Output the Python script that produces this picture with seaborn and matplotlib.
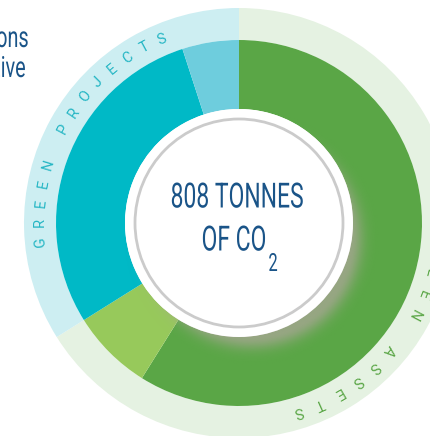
import numpy as np
import matplotlib
matplotlib.use("Agg")
import matplotlib.pyplot as plt
import seaborn as sns
from matplotlib.patches import Circle
from matplotlib.patheffects import AbstractPathEffect
from matplotlib.transforms import Affine2D

# ---------------- data ----------------
segments = ["Green assets A", "Green assets B", "Green projects A", "Green projects B"]
shares = [58.9, 7.2, 28.9, 5.0]            # % of 808 tonnes CO2
segment_colors = ["#5aa646", "#97c95b", "#00b9c6", "#6ecddd"]
groups = ["GREEN ASSETS", "GREEN PROJECTS"]
group_shares = [shares[0] + shares[1], shares[2] + shares[3]]
group_colors = ["#e5f2e2", "#cdeef2"]
label_colors = ["#5aa646", "#25b6c4"]
center_line1 = "808 TONNES"
center_line2 = "OF CO"
center_sub = "2"
side_lines = ["emissions", "positive"]

sns.set_theme(style="white")
plt.rcParams["font.family"] = ["Roboto", "DejaVu Sans"]

W, H = 431, 436
fig = plt.figure(figsize=(W / 100, H / 100), dpi=100)
ax = fig.add_axes([0, 0, 1, 1])

cx, cy = 239, 213
R_outer, R_ring_in = 215, 183
R_hole = 114
R_gray = 104


class HScale(AbstractPathEffect):
    """Horizontally condense text glyphs (text stays a Text artist)."""
    def __init__(self, s, anchor=0.5):
        super().__init__()
        self.s = s
        self.anchor = anchor

    def draw_path(self, renderer, gc, tpath, affine, rgbFace=None):
        ext = tpath.get_extents()
        x0 = ext.x0 + self.anchor * (ext.x1 - ext.x0)
        t = Affine2D().translate(-x0, 0).scale(self.s, 1).translate(x0, 0) + affine
        renderer.draw_path(gc, tpath, t, rgbFace)


# outer ring
ax.pie(group_shares, colors=group_colors, radius=R_outer, center=(cx, cy),
       startangle=90, counterclock=False,
       wedgeprops=dict(width=R_outer - R_ring_in, linewidth=0))
# inner donut
ax.pie(shares, colors=segment_colors, radius=R_ring_in, center=(cx, cy),
       startangle=90, counterclock=False,
       wedgeprops=dict(width=R_ring_in - R_hole, linewidth=0))

# soft shadow of the centre disc
n = 500
xs = np.linspace(cx - R_ring_in, cx + R_ring_in, n)
ys = np.linspace(cy - R_ring_in, cy + R_ring_in, n)
X, Y = np.meshgrid(xs, ys)
sx, sy = cx + 13, cy - 15
d = np.hypot(X - sx, Y - sy)
Rs, sig = 99, 12.5
alpha = 0.78 * np.exp(-(np.clip(d - Rs, 0, None) / sig) ** 2)
img = np.zeros((n, n, 4))
img[..., 0] = 168 / 255
img[..., 1] = 166 / 255
img[..., 2] = 148 / 255
img[..., 3] = alpha
im = ax.imshow(img, extent=(xs[0], xs[-1], ys[0], ys[-1]), origin="lower",
               zorder=2, interpolation="bilinear")
im.set_clip_path(Circle((cx, cy), R_ring_in, transform=ax.transData))

ax.add_patch(Circle((cx, cy), R_hole, facecolor="white", edgecolor="none", zorder=3))
ax.add_patch(Circle((cx, cy), R_gray, facecolor="none", edgecolor="#cbcbcb",
                    linewidth=2.0, zorder=4))

# centre text
navy = "#1a5488"
ax.text(cx - 2, cy + 25, center_line1, ha="center", va="center", fontsize=25,
        color=navy, zorder=5, path_effects=[HScale(0.66)])
ax.text(cx - 5, cy - 18, center_line2, ha="center", va="center", fontsize=25,
        color=navy, zorder=5, path_effects=[HScale(0.66)])
ax.text(cx + 34, cy - 41, center_sub, ha="center", va="center", fontsize=18,
        color=navy, zorder=5, path_effects=[HScale(0.66)])

# side text (cropped at the left edge)
ax.text(29, 389, side_lines[0], ha="right", va="baseline", fontsize=21,
        color=navy, path_effects=[HScale(0.68, anchor=1.0)])
ax.text(26, 359, side_lines[1], ha="right", va="baseline", fontsize=21,
        color=navy, path_effects=[HScale(0.68, anchor=1.0)])


# curved labels
def arc_text(text, start, step, radius, color):
    for i, ch in enumerate(text):
        if ch == " ":
            continue
        th = np.deg2rad(start + i * step)
        x = cx + radius * np.sin(th)
        y = cy + radius * np.cos(th)
        ax.text(x, y, ch, ha="center", va="center", rotation=-np.rad2deg(th),
                rotation_mode="anchor", fontsize=10.5, fontweight="normal",
                color=color, zorder=5)


arc_text(groups[1], 264.5, 5.6, 199, label_colors[1])
arc_text(groups[0], 92.0, 6.4, 197, label_colors[0])

ax.set_xlim(0, W)
ax.set_ylim(0, H)
ax.axis("off")
fig.savefig("out.png", dpi=100)
